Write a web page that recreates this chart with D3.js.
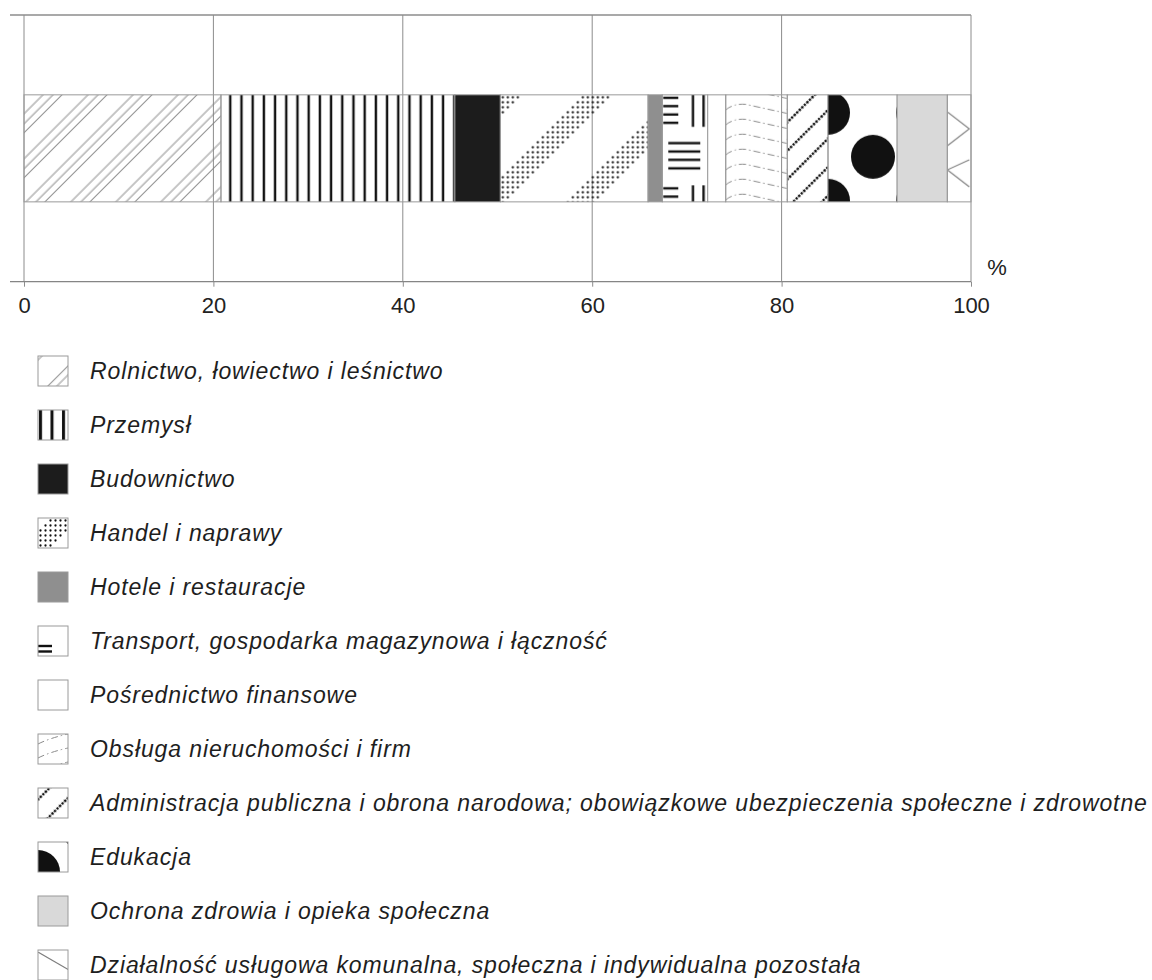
<!DOCTYPE html>
<html><head><meta charset="utf-8">
<script src="https://cdn.jsdelivr.net/npm/d3@7"></script>
<style>
body{margin:0;background:#fff;}
svg{display:block;font-family:"Liberation Sans",Arial,Helvetica,sans-serif;}
</style>
</head><body>
<svg id="chart" width="1152" height="980"></svg>
<script>
// ---- data ----
const categories = [
  "Rolnictwo, łowiectwo i leśnictwo",
  "Przemysł",
  "Budownictwo",
  "Handel i naprawy",
  "Hotele i restauracje",
  "Transport, gospodarka magazynowa i łączność",
  "Pośrednictwo finansowe",
  "Obsługa nieruchomości i firm",
  "Administracja publiczna i obrona narodowa; obowiązkowe ubezpieczenia społeczne i zdrowotne",
  "Edukacja",
  "Ochrona zdrowia i opieka społeczna",
  "Działalność usługowa komunalna, społeczna i indywidualna pozostała"
];
const shares = [20.8, 24.7, 4.8, 15.6, 1.5, 4.8, 1.9, 6.5, 4.3, 7.3, 5.3, 2.5];
const xTicks = [0, 20, 40, 60, 80, 100];
const unitLabel = "%";
const barCategory = ["ogółem"];

// ---- styles (fills) ----
const barStyles = [
  {type:"diag", P:45, rel:19, offs:[0,10,19], sw:0.9, color:"#808080"},
  {type:"vlines", period:11.2, off:9.3, sw:2.4},
  {type:"solid", color:"#1c1c1c"},
  {type:"dotband", rel:7.7},
  {type:"solid", color:"#8f8f8f"},
  {type:"transport", dx:0, dy:0},
  {type:"solid", color:"#ffffff"},
  {type:"wave", dy:6},
  {type:"diagdots", P:28.5, rel:27.5},
  {type:"circles", dx:0, dy:18},
  {type:"solid", color:"#d9d9d9"},
  {type:"zig", dx:0, dy:17, sx:1}
];
const legendStyles = [
  {type:"diag", P:45, rel:4, offs:[0,36], sw:0.9, color:"#808080"},
  {type:"vlines", period:11.5, off:2.5, sw:3},
  {type:"solid", color:"#1c1c1c"},
  {type:"dotband", rel:27},
  {type:"solid", color:"#8f8f8f"},
  {type:"transportL", dx:0, dy:17},
  {type:"solid", color:"#ffffff"},
  {type:"waveL", dy:-2},
  {type:"diagdots", P:28.5, rel:11.5},
  {type:"circles", dx:0, dy:30},
  {type:"solid", color:"#d9d9d9"},
  {type:"zigL", dx:0, dy:2}
];

const svg = d3.select("#chart");
const defs = svg.append("defs");

function mod(a, m){ return ((a % m) + m) % m; }

function makeFill(id, st, ox, oy){
  const S2 = Math.SQRT2;
  if (st.type === "solid") return st.color;
  let p;
  const pat = (px, py, w, h) => defs.append("pattern").attr("id", id).attr("patternUnits","userSpaceOnUse")
      .attr("x", px).attr("y", py).attr("width", w).attr("height", h);
  if (st.type === "diag" || st.type === "diagdots") {
    const W = st.P / S2;
    const H = st.type === "diag" ? 10 : 36;
    p = defs.append("pattern").attr("id", id).attr("patternUnits","userSpaceOnUse")
      .attr("width", W).attr("height", H).attr("patternTransform","rotate(45)");
    const offs = st.offs || [0];
    offs.forEach(o => {
      const u = mod(ox + oy + st.rel + o, st.P) / S2;
      [u - W, u, u + W].forEach(uu => {
        if (st.type === "diag") {
          p.append("line").attr("x1", uu).attr("x2", uu).attr("y1", -1).attr("y2", H + 1)
            .attr("stroke", st.color).attr("stroke-width", st.sw);
        } else {
          for (let i = 0; i < 10; i++) {
            p.append("circle").attr("cx", uu).attr("cy", 1.8 + 3.6 * i).attr("r", 1.35).attr("fill", "#111");
          }
        }
      });
    });
  } else if (st.type === "vlines") {
    p = pat(ox, 0, st.period, 10);
    [st.off - st.period, st.off, st.off + st.period].forEach(xx =>
      p.append("rect").attr("x", xx - st.sw/2).attr("y", 0).attr("width", st.sw).attr("height", 10).attr("fill", "#111"));
  } else if (st.type === "dotband") {
    const T = 90, g = 5, bw = 27;
    p = pat(ox, oy, T, T);
    const a = st.rel - bw/2;
    for (let i = 0; i < T/g; i++) for (let j = 0; j < T/g; j++) {
      const cx = g/2 + g*i, cy = g/2 + g*j;
      if (mod(cx + cy - a, T) < bw) p.append("circle").attr("cx", cx).attr("cy", cy).attr("r", 1.15).attr("fill", "#111");
    }
  } else if (st.type === "transport" || st.type === "transportL") {
    const legend = st.type === "transportL";
    p = pat(ox + st.dx, oy + st.dy, legend ? 60 : 46, legend ? 60 : 90.5);
    const ln = (x1,y1,x2,y2) => p.append("line").attr("x1",x1).attr("y1",y1).attr("x2",x2).attr("y2",y2)
      .attr("stroke","#111").attr("stroke-width",2.4);
    if (legend) {
      [3, 8.5].forEach(y => ln(0, y, 14, y));
    } else {
      [3, 11.3, 19.7, 28].forEach(y => ln(1, y, 16, y));
      [30.7, 41.3].forEach(x => ln(x, 0, x, 32));
      [48.3, 56.7, 65, 73.5].forEach(y => ln(6, y, 38, y));
    }
  } else if (st.type === "wave") {
    p = pat(ox, oy + st.dy, 61, 15);
    p.append("path").attr("d", "M0,9 Q8,2.5 20,3.5 L61,12.5").attr("fill","none")
      .attr("stroke","#8a8a8a").attr("stroke-width",1).attr("stroke-dasharray","7 3 1.5 3");
  } else if (st.type === "waveL") {
    p = pat(ox, oy + st.dy, 30, 14);
    p.append("path").attr("d", "M0,12 Q12,6 30,2").attr("fill","none")
      .attr("stroke","#8a8a8a").attr("stroke-width",1).attr("stroke-dasharray","7 3 1.5 3");
  } else if (st.type === "circles") {
    p = pat(ox + st.dx, oy + st.dy, 90, 88);
    [[0,0],[90,0],[0,88],[90,88],[45,44]].forEach(([cx,cy]) =>
      p.append("circle").attr("cx",cx).attr("cy",cy).attr("r",22).attr("fill","#111"));
  } else if (st.type === "zig") {
    p = pat(ox + st.dx, oy + st.dy, 44, 116);
    p.append("path").attr("d", "M0,0 L22,17 L0,34 M22,48 L0,58 L22,75").attr("fill","none")
      .attr("stroke","#7d7d7d").attr("stroke-width",1.1);
  } else if (st.type === "zigL") {
    p = pat(ox + st.dx, oy + st.dy, 60, 60);
    p.append("path").attr("d", "M0,0 L31,18").attr("fill","none")
      .attr("stroke","#7d7d7d").attr("stroke-width",1.1);
  }
  return `url(#${id})`;
}

// ---- scales ----
const x = d3.scaleLinear().domain([0, 100]).range([24, 971]);
const y = d3.scaleBand().domain(barCategory).range([15, 281.7]).paddingOuter(0.746).paddingInner(0);
const ends = Array.from(d3.cumsum(shares));
const segs = shares.map((v, i) => ({cat: categories[i], start: ends[i] - v, end: ends[i], i}));

// ---- frame / grid ----
const grid = svg.append("g");
grid.append("line").attr("x1", 10).attr("x2", x(100)).attr("y1", 15).attr("y2", 15)
  .attr("stroke", "#555").attr("stroke-width", 1.2);
grid.selectAll("line.v").data(xTicks).join("line").attr("class","v")
  .attr("x1", d => x(d)).attr("x2", d => x(d)).attr("y1", 15).attr("y2", 281.7)
  .attr("stroke", "#8c8c8c").attr("stroke-width", 1);
grid.append("line").attr("x1", 10).attr("x2", x(100)).attr("y1", 281.7).attr("y2", 281.7)
  .attr("stroke", "#858585").attr("stroke-width", 1.2);

// ---- bar ----
const barG = svg.append("g");
barG.selectAll("rect").data(segs).join("rect")
  .attr("x", d => x(d.start))
  .attr("y", y(barCategory[0]))
  .attr("width", d => x(d.end) - x(d.start))
  .attr("height", y.bandwidth())
  .attr("fill", d => makeFill("bp" + d.i, barStyles[d.i], x(d.start), y(barCategory[0])))
  .attr("stroke", "#9a9a9a").attr("stroke-width", 1);

// ---- axis ----
const axisG = svg.append("g").attr("transform", "translate(0,281.7)")
  .call(d3.axisBottom(x).tickValues(xTicks).tickSize(5).tickPadding(10.7).tickFormat(d3.format("d")));
axisG.select(".domain").remove();
axisG.selectAll(".tick line").attr("stroke", "#8c8c8c");
axisG.selectAll(".tick text").attr("font-size", 22).attr("fill", "#222")
  .attr("font-family", "'Liberation Sans', Arial, sans-serif");
svg.append("text").attr("x", 997).attr("y", 275).attr("text-anchor", "middle")
  .attr("font-size", 22).attr("fill", "#222").text(unitLabel);

// ---- legend ----
const legG = svg.append("g");
const rowY = i => 371 + 54 * i;
const items = legG.selectAll("g").data(categories).join("g");
items.append("rect")
  .attr("x", 38).attr("y", (d, i) => rowY(i) - 15).attr("width", 30).attr("height", 30)
  .attr("fill", (d, i) => makeFill("lp" + i, legendStyles[i], 38, rowY(i) - 15))
  .attr("stroke", "#9a9a9a").attr("stroke-width", 1);
items.append("text")
  .attr("x", 90).attr("y", (d, i) => rowY(i) + 8)
  .attr("font-size", 23).attr("letter-spacing", 0.9).attr("font-style", "italic").attr("fill", "#1e1e1e")
  .text(d => d);
</script>
</body></html>
